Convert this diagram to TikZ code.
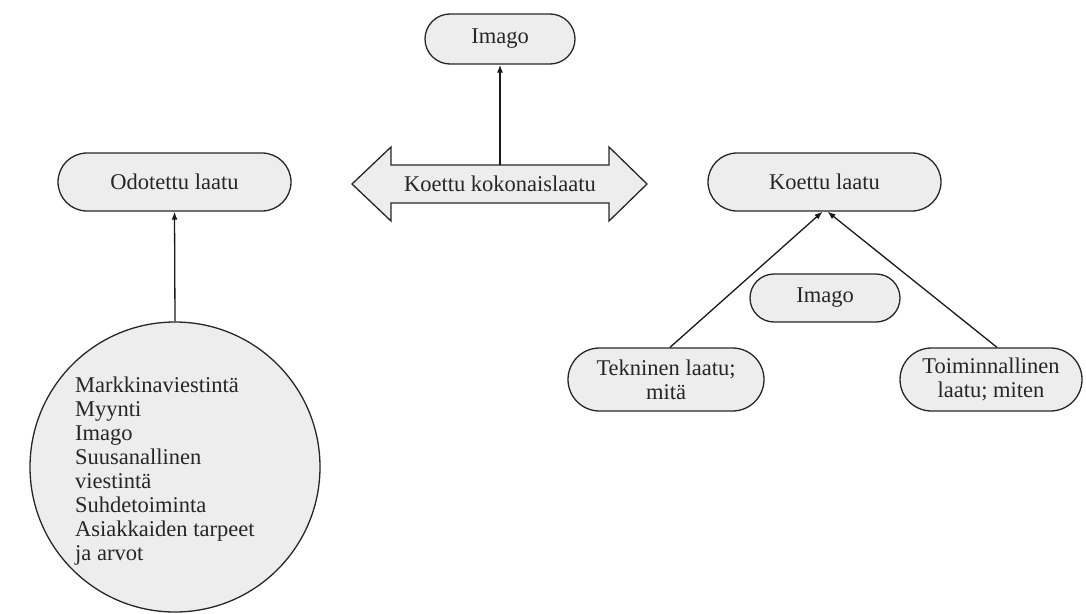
\documentclass[tikz,border=0pt]{standalone}
\usepackage{fontspec}
\setmainfont{Liberation Serif}
\usetikzlibrary{arrows.meta,shapes.misc}
\begin{document}
\begin{tikzpicture}[x=1pt,y=-1pt,
  txt/.style={font=\fontsize{22.5}{24}\selectfont, text=black!85},
  pill/.style={txt, rounded rectangle, draw=black!85, line width=1.3pt, fill=black!7,
    align=center, inner sep=0pt},
  link/.style={draw=black!90, line width=1.3pt, -{Latex[length=8pt,width=6pt]}}]
\useasboundingbox (0,0) rectangle (1086,613);

% top image node and the overall perceived quality arrow
\node[pill, minimum width=150pt, minimum height=50pt] (imtop) at (500,39) {Imago};
\filldraw[draw=black!85, line width=1.3pt, fill=black!7]
  (352,184) -- (391,147) -- (391,165) -- (609,165) -- (609,147) -- (647,184)
  -- (609,221) -- (609,203) -- (391,203) -- (391,221) -- cycle;
\node[txt, minimum width=218pt, minimum height=38pt, inner sep=0pt] (total) at (500,184) {Koettu kokonaislaatu};
\draw[link] (total.north) -- (imtop.south);

% expected quality and its sources
\node[pill, minimum width=233pt, minimum height=58pt] (expected) at (174.5,182) {Odotettu laatu};
\node[circle, draw=black!85, line width=1.3pt, fill=black!7, minimum size=290pt, inner sep=0pt] (sources) at (175,467) {};
\node[txt, align=left, anchor=west, inner sep=0pt] (srctext) at (75,471)
  {Markkinaviestintä\\Myynti\\Imago\\Suusanallinen\\viestintä\\Suhdetoiminta\\Asiakkaiden tarpeet\\ja arvot};
\draw[link] (sources.north) -- (expected.south);

% experienced quality
\node[pill, minimum width=233pt, minimum height=58pt] (experienced) at (824.5,182) {Koettu laatu};
\node[pill, minimum width=150pt, minimum height=48pt] (immid) at (825,298) {Imago};
\node[pill, minimum width=196pt, minimum height=63pt] (technical) at (666,379.5) {Tekninen laatu;\\mitä};
\node[pill, minimum width=182pt, minimum height=63pt] (functional) at (991,379.5) {Toiminnallinen\\laatu; miten};
\draw[link] (technical.north) ++(4,0) -- ([xshift=-2pt]experienced.south);
\draw[link] (functional.north) ++(6,0) -- ([xshift=3pt]experienced.south);
\end{tikzpicture}
\end{document}
